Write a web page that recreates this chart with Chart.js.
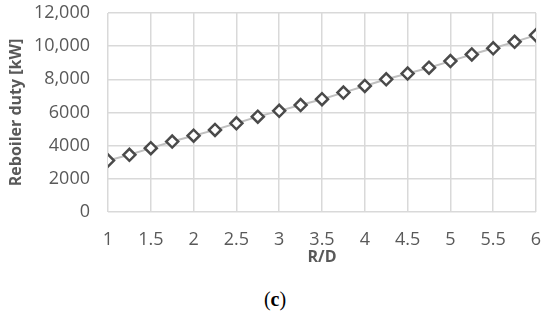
<!DOCTYPE html>
<html lang="en">
<head>
    <meta charset="UTF-8">
    <title>Reboiler duty vs R/D</title>
    <script src="https://cdn.jsdelivr.net/npm/chart.js"></script>
    <style>
        body {
            margin: 0;
            padding: 0;
            background: #fff;
        }
        .wrap {
            position: relative;
            width: 550px;
            height: 314px;
        }
        .chart-box {
            position: absolute;
            left: 0;
            top: 0;
            width: 550px;
            height: 272px;
        }
        .caption {
            position: absolute;
            left: 0;
            top: 286px;
            width: 550px;
            text-align: center;
            font-family: 'Liberation Serif', serif;
            font-size: 20px;
            line-height: 26px;
            color: #000;
        }
    </style>
</head>
<body>
    <div class="wrap">
        <div class="chart-box">
            <canvas id="dutyChart"></canvas>
        </div>
        <div class="caption">(<b>c</b>)</div>
    </div>

    <script>
        // R/D ratio and reboiler duty [kW]
        const refluxRatio = [1, 1.25, 1.5, 1.75, 2, 2.25, 2.5, 2.75, 3, 3.25, 3.5,
                             3.75, 4, 4.25, 4.5, 4.75, 5, 5.25, 5.5, 5.75, 6];
        const reboilerDuty = [3100, 3450, 3850, 4250, 4600, 4950, 5350, 5750, 6100, 6450, 6800,
                              7200, 7600, 8000, 8350, 8700, 9100, 9500, 9870, 10260, 10660];

        // tick labels as printed (mixed formatting in the original)
        const yTickValues = [0, 2000, 4000, 6000, 8000, 10000, 12000];
        const yTickLabels = ['0', '2000', '4000', '6000', '8,000', '10,000', '12,000'];

        const points = refluxRatio.map((r, i) => ({ x: r, y: reboilerDuty[i] }));

        const grey = '#595959';

        new Chart(document.getElementById('dutyChart'), {
            type: 'line',
            data: {
                datasets: [{
                    data: points,
                    borderColor: '#bfbfbf',
                    borderWidth: 2,
                    pointStyle: 'rectRot',
                    pointRadius: 6,
                    pointBorderWidth: 2.5,
                    pointBorderColor: '#4a4a4a',
                    pointBackgroundColor: '#fff',
                    tension: 0
                }]
            },
            options: {
                responsive: true,
                maintainAspectRatio: false,
                animation: false,
                layout: { padding: { top: 13, right: 14, left: 7, bottom: 5 } },
                plugins: {
                    legend: { display: false },
                    tooltip: { enabled: false }
                },
                scales: {
                    x: {
                        type: 'linear',
                        min: 1,
                        max: 6,
                        border: { display: false },
                        grid: { color: '#d9d9d9', lineWidth: 1.5, drawTicks: false },
                        afterFit: axis => {
                            axis.height = 55;
                            axis.paddingLeft = 0;
                            axis.paddingRight = 0;
                        },
                        ticks: {
                            stepSize: 0.5,
                            padding: 17,
                            color: grey,
                            font: { family: 'Open Sans', size: 18 },
                            callback: value => String(value)
                        },
                        title: {
                            display: true,
                            text: 'R/D',
                            color: grey,
                            padding: { top: 0, bottom: 0 },
                            font: { family: 'Open Sans', size: 16, weight: 'bold' }
                        }
                    },
                    y: {
                        min: 0,
                        max: 12000,
                        border: { display: false },
                        grid: { color: '#d9d9d9', lineWidth: 1.5, drawTicks: false },
                        afterFit: axis => {
                            axis.width = 101;
                            axis.paddingTop = 0;
                            axis.paddingBottom = 0;
                        },
                        afterBuildTicks: axis => {
                            axis.ticks = yTickValues.map(v => ({ value: v }));
                        },
                        ticks: {
                            padding: 18,
                            color: grey,
                            font: { family: 'Open Sans', size: 18 },
                            callback: value => yTickLabels[yTickValues.indexOf(value)]
                        },
                        title: {
                            display: true,
                            text: 'Reboiler duty [kW]',
                            color: grey,
                            padding: { top: 0, bottom: 0 },
                            font: { family: 'Open Sans', size: 16, weight: 'bold' }
                        }
                    }
                }
            }
        });
    </script>
</body>
</html>
